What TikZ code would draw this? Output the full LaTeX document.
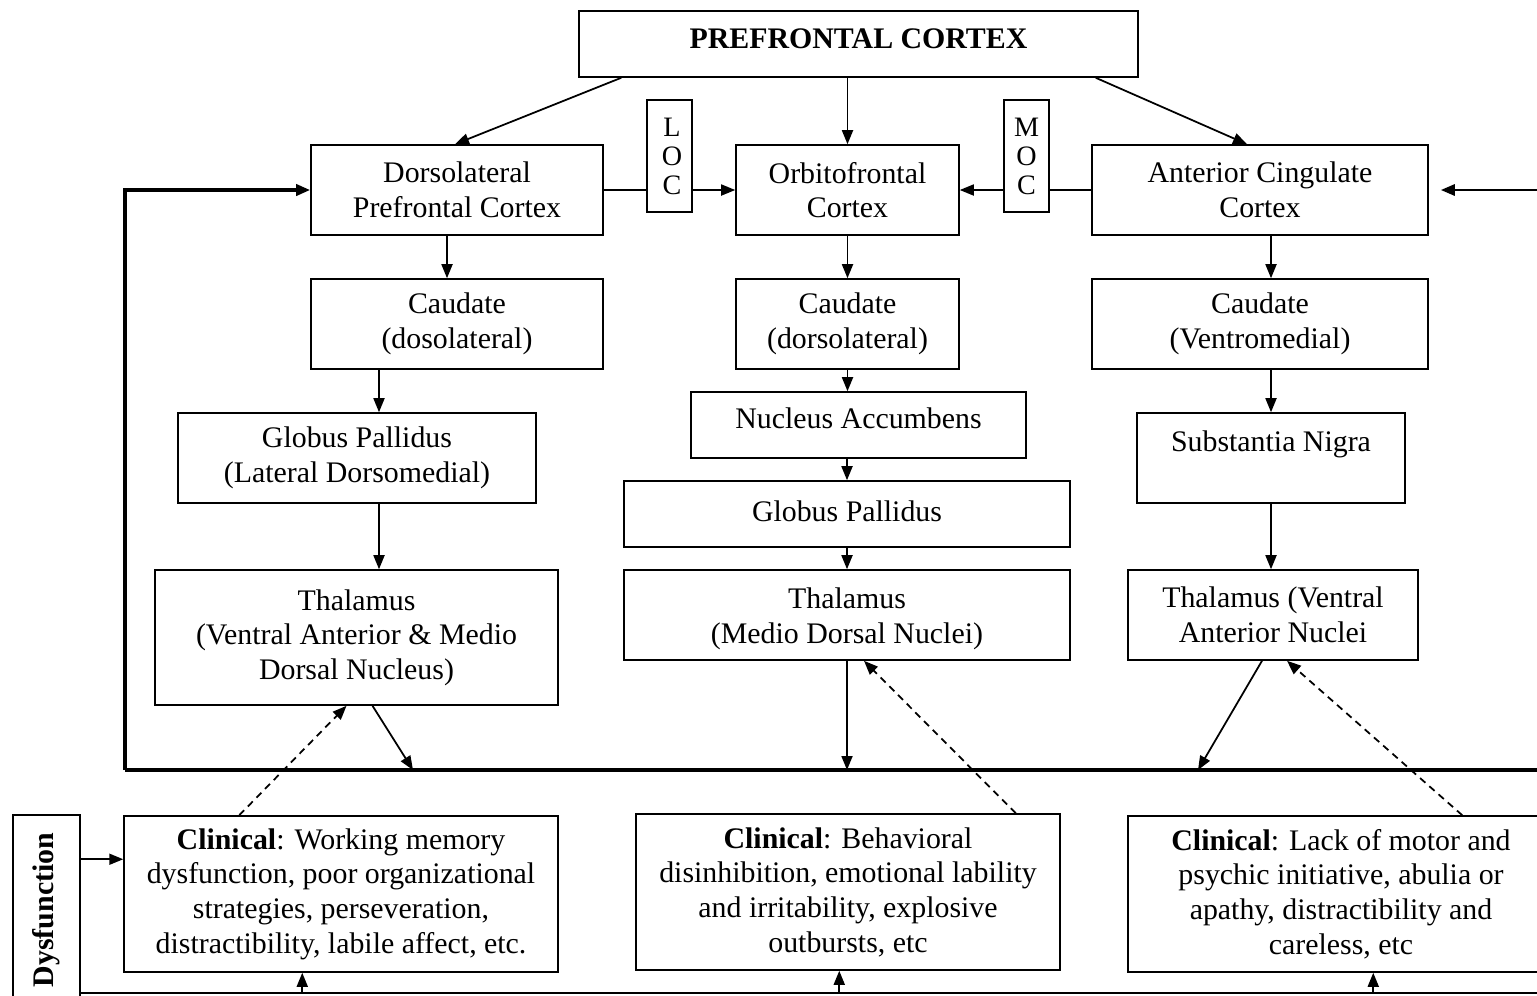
\documentclass[tikz,border=0pt]{standalone}
\usepackage{fontspec}
\setmainfont{Liberation Serif}
\usetikzlibrary{arrows.meta,calc}
\begin{document}
\begin{tikzpicture}[x=0.02cm,y=-0.02cm,
  box/.style={draw, line width=0.9pt, align=center, inner sep=0pt, font=\fontsize{17}{19.7}\selectfont},
  arr/.style={-{Triangle[length=0.28cm,width=0.22cm]}, line width=1pt},
  plain/.style={line width=1pt},
  dasharr/.style={arr, dash pattern=on 4pt off 3pt},
  bus/.style={line width=2.4pt}]
\useasboundingbox (0,0) rectangle (1537,995);

% nodes
\node[box, minimum width=11.18cm, minimum height=1.32cm, font=\fontsize{17}{19.7}\selectfont\bfseries] (pfc) at (858.5,44) {PREFRONTAL CORTEX\rule[-6pt]{0pt}{6pt}};
\node[box, minimum width=0.9cm, minimum height=2.24cm, font=\fontsize{16}{16.5}\selectfont] (loc) at (669.5,156) {\hspace*{0.1cm}L\\\hspace*{0.1cm}O\\\hspace*{0.1cm}C};
\node[box, minimum width=0.9cm, minimum height=2.24cm, font=\fontsize{16}{16.5}\selectfont] (moc) at (1026.5,156) {M\\O\\C};

\node[box, minimum width=5.84cm, minimum height=1.8cm] (dl) at (457,190) {Dorsolateral\\Prefrontal Cortex};
\node[box, minimum width=4.46cm, minimum height=1.8cm] (ofc) at (847.5,190) {Orbitofrontal\\Cortex};
\node[box, minimum width=6.72cm, minimum height=1.8cm] (acc) at (1260,190) {Anterior Cingulate\\Cortex};

\node[box, minimum width=5.84cm, minimum height=1.8cm] (cl) at (457,324) {Caudate\\(dosolateral)};
\node[box, minimum width=4.46cm, minimum height=1.8cm] (cm) at (847.5,324) {Caudate\\(dorsolateral)};
\node[box, minimum width=6.72cm, minimum height=1.8cm] (cr) at (1260,324) {Caudate\\(Ventromedial)};

\node[box, minimum width=7.16cm, minimum height=1.8cm] (gpl) at (357,458) {Globus Pallidus\\(Lateral Dorsomedial)};
\node[box, minimum width=6.7cm, minimum height=1.32cm] (na) at (858.5,425) {Nucleus Accumbens\rule[-8pt]{0pt}{8pt}};
\node[box, minimum width=8.92cm, minimum height=1.32cm] (gpm) at (847,514) {Globus Pallidus\rule[-3pt]{0pt}{3pt}};
\node[box, minimum width=5.36cm, minimum height=1.8cm] (sn) at (1271,458) {Substantia Nigra\rule[-19pt]{0pt}{19pt}};

\node[box, minimum width=8.06cm, minimum height=2.7cm] (thl) at (356.5,637.5) {Thalamus\\(Ventral Anterior \& Medio\\Dorsal Nucleus)};
\node[box, minimum width=8.92cm, minimum height=1.8cm] (thm) at (847,615) {\rule{0pt}{16pt}Thalamus\\(Medio Dorsal Nuclei)};
\node[box, minimum width=5.8cm, minimum height=1.8cm] (thr) at (1273,615) {Thalamus (Ventral\\Anterior Nuclei};

\node[box, minimum width=8.68cm, minimum height=3.12cm] (c1) at (341,894) {\textbf{Clinical}: Working memory\\dysfunction, poor organizational\\strategies, perseveration,\\distractibility, labile affect, etc.};
\node[box, minimum width=8.48cm, minimum height=3.12cm] (c2) at (848,892) {\textbf{Clinical}: Behavioral\\disinhibition, emotional lability\\and irritability, explosive\\outbursts, etc};
\node[box, minimum width=8.52cm, minimum height=3.12cm] (c3) at (1341,894) {\textbf{Clinical}: Lack of motor and\\psychic initiative, abulia or\\apathy, distractibility and\\careless, etc};

\node[box, minimum width=1.34cm, minimum height=3.8cm] (dys) at (46.5,910) {};
\node[font=\fontsize{17}{19.7}\selectfont\bfseries, rotate=90] (dyst) at (dys.center) {Dysfunction};

% bus coordinates
\coordinate (busR) at (1545,770);
\coordinate (busL) at (125,770);
\coordinate (b1) at (413,770);
\coordinate (b3) at (1198,770);
\coordinate (rin) at (1545,190);
\coordinate (bl) at (80,993);
\coordinate (br) at (1545,993);
\coordinate (da) at ($(c1.north west)+(0,44)$);

% PFC to top row
\draw[arr] ([xshift=0.86cm]pfc.south west) -- ([xshift=-0.04cm]dl.north);
\draw[arr] (pfc.south -| ofc.north) -- (ofc.north);
\draw[arr] ([xshift=-0.86cm]pfc.south east) -- ([xshift=-0.26cm]acc.north);

% lateral LOC / MOC
\draw[plain] (dl.east) -- (dl.east -| loc.west);
\draw[arr] (loc.east |- ofc.west) -- (ofc.west);
\draw[plain] (acc.west) -- (acc.west -| moc.east);
\draw[arr] (moc.west |- ofc.east) -- (ofc.east);

% left column
\draw[arr] ([xshift=-0.2cm]dl.south) -- ([xshift=-0.2cm]cl.north);
\draw[arr] ($(cl.south -| gpl.north)+(22,0)$) -- ($(gpl.north)+(22,0)$);
\draw[arr] ($(gpl.south)+(22,0)$) -- ($(thl.north -| gpl.south)+(22,0)$);

% middle column
\draw[arr] (ofc.south) -- (cm.north);
\draw[arr] (cm.south) -- (cm.south |- na.north);
\draw[arr] (na.south -| gpm.north) -- (gpm.north);
\draw[arr] (gpm.south) -- (thm.north);

% right column
\draw[arr] (acc.south -| sn.north) -- (cr.north -| sn.north);
\draw[arr] (cr.south -| sn.north) -- (sn.north);
\draw[arr] (sn.south) -- (thr.north -| sn.south);

% to bus
\draw[arr] ($(thl.south)+(16,0)$) -- (b1);
\draw[arr] (thm.south) -- (thm.south |- busL);
\draw[arr] ($(thr.south)+(-11,0)$) -- (b3);

% bus loop
\draw[bus] (busR) -- (busL);
\draw[bus, -{Triangle[length=0.28cm,width=0.22cm]}] (busL) |- (dl.west);
\draw[arr, line width=1.6pt] (rin) -- ($(acc.east)+(12,0)$);

% dashed feedback
\draw[dasharr] ($(c1.north west)+(116,0)$) -- ($(thl.south)+(-10,0)$);
\draw[dasharr] ($(c2.north east)+(-45,0)$) -- ($(thm.south)+(17,0)$);
\draw[dasharr] ($(c3.north west)+(335,0)$) -- ($(thr.south)+(14,0)$);

% dysfunction
\draw[arr] (dys.east |- da) -- (da);
\draw[plain] (bl) -- (br);
\draw[arr] ($(c1.south west)+(179,21)$) -- ($(c1.south west)+(179,0)$);
\draw[arr] ($(c2.south west)+(204,23)$) -- ($(c2.south west)+(204,0)$);
\draw[arr] ($(c3.south west)+(246,21)$) -- ($(c3.south west)+(246,0)$);
\end{tikzpicture}
\end{document}
